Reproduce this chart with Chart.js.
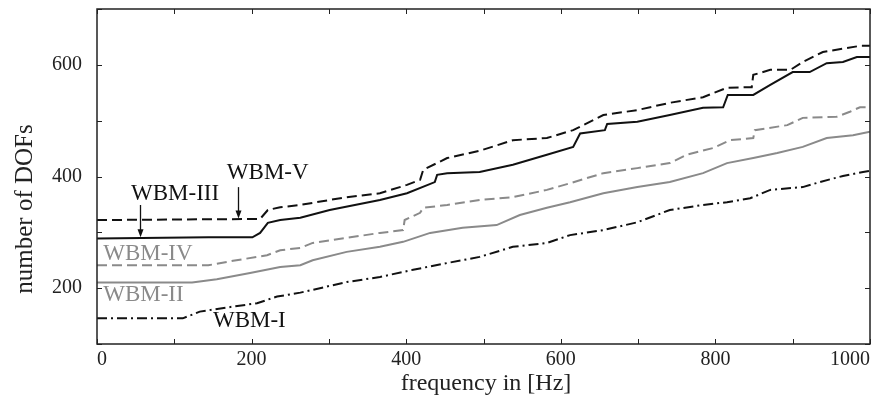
<!DOCTYPE html>
<html>
<head>
<meta charset="utf-8">
<script src="https://cdn.jsdelivr.net/npm/chart.js@4.4.0/dist/chart.umd.min.js"></script>
<style>
    html, body { margin: 0; padding: 0; background: #fff; }
    #wrap { width: 874px; height: 405px; }
</style>
</head>
<body>
<div id="wrap"><canvas id="dofChart" width="874" height="405"></canvas></div>
<script>
// frequency [Hz] / number of DOFs
const freqV = [0, 211, 221, 237, 263, 301, 323, 366, 401, 418, 422, 453, 495, 538, 582, 616, 655, 699, 741, 784, 815, 847, 849, 871, 897, 913, 939, 970, 987, 1000];
const dofsV = [322, 324, 340, 345, 349, 358, 363, 370, 385, 394, 412, 433, 446, 465, 469, 483, 510, 519, 532, 542, 559, 560, 582, 591, 591, 605, 623, 630, 634, 634];

const freqIII = [0, 144, 201, 211, 221, 237, 263, 301, 366, 401, 437, 440, 453, 495, 538, 582, 616, 625, 657, 660, 699, 741, 784, 810, 816, 849, 871, 900, 922, 944, 965, 983, 1000];
const dofsIII = [289, 291, 291, 299, 317, 322, 326, 340, 358, 370, 390, 403, 406, 408, 421, 439, 453, 477, 483, 494, 498, 510, 523, 524, 546, 546, 564, 587, 587, 603, 605, 614, 614];

const freqIV = [0, 144, 176, 220, 237, 263, 279, 323, 366, 396, 398, 418, 422, 453, 495, 538, 582, 612, 655, 699, 741, 763, 797, 819, 849, 851, 893, 913, 957, 974, 987, 1000];
const dofsIV = [241, 241, 249, 259, 268, 272, 281, 290, 299, 304, 322, 335, 344, 349, 358, 363, 376, 388, 406, 415, 424, 439, 451, 465, 469, 483, 492, 505, 507, 516, 524, 524];

const freqII = [0, 123, 155, 198, 237, 263, 279, 323, 366, 396, 431, 473, 517, 547, 582, 612, 655, 699, 741, 784, 815, 849, 880, 913, 944, 978, 1000];
const dofsII = [210, 210, 216, 227, 238, 241, 250, 265, 274, 283, 299, 308, 313, 331, 344, 354, 370, 381, 390, 406, 424, 433, 442, 453, 469, 474, 480];

const freqI = [0, 111, 133, 176, 207, 233, 263, 279, 323, 366, 409, 453, 495, 538, 582, 612, 655, 699, 741, 784, 815, 845, 871, 913, 935, 965, 991, 1000];
const dofsI = [146, 146, 158, 167, 173, 185, 192, 197, 211, 220, 233, 245, 256, 274, 281, 295, 304, 318, 340, 349, 354, 361, 376, 381, 390, 401, 408, 410];

const xTicks = [0, 200, 400, 600, 800, 1000];
const yTicks = [200, 400, 600];

const SERIF = '"Liberation Serif", "DejaVu Serif", serif';
const BLACK = '#111';
const GRAY = '#8a8a8a';

function series(label, xs, ys, color, dash) {
    return {
        label,
        data: xs.map((f, i) => ({ x: f, y: ys[i] })),
        borderColor: color,
        borderWidth: 2,
        borderDash: dash,
        borderCapStyle: 'butt',
        pointRadius: 0,
        fill: false,
        tension: 0
    };
}

// text labels + arrows, anchored in data coordinates
const notes = [
    { text: 'WBM-III', x: 44, y: 369, color: BLACK, arrow: { x: 56, from: 349, to: 291 } },
    { text: 'WBM-V', x: 168, y: 406, color: BLACK, arrow: { x: 182, from: 381, to: 325 } },
    { text: 'WBM-IV', x: 8, y: 262, color: GRAY },
    { text: 'WBM-II', x: 8, y: 188, color: GRAY },
    { text: 'WBM-I', x: 150, y: 141, color: BLACK }
];

const framePlugin = {
    id: 'frame',
    afterDraw(chart) {
        const { ctx, chartArea: a, scales: { x, y } } = chart;
        ctx.save();

        // box + inward ticks on all four sides
        ctx.strokeStyle = '#222';
        ctx.lineWidth = 1.5;
        ctx.strokeRect(a.left, a.top, a.right - a.left, a.bottom - a.top);
        ctx.lineWidth = 1;
        ctx.beginPath();
        x.ticks.forEach(t => {
            const px = Math.round(x.getPixelForValue(t.value)) + 0.5;
            ctx.moveTo(px, a.bottom); ctx.lineTo(px, a.bottom - 5);
            ctx.moveTo(px, a.top); ctx.lineTo(px, a.top + 5);
        });
        y.ticks.forEach(t => {
            const py = Math.round(y.getPixelForValue(t.value)) + 0.5;
            ctx.moveTo(a.left, py); ctx.lineTo(a.left + 5, py);
            ctx.moveTo(a.right, py); ctx.lineTo(a.right - 5, py);
        });
        ctx.stroke();

        // curve labels
        ctx.font = '23px ' + SERIF;
        ctx.textBaseline = 'middle';
        ctx.textAlign = 'left';
        notes.forEach(n => {
            ctx.fillStyle = n.color;
            ctx.fillText(n.text, x.getPixelForValue(n.x), y.getPixelForValue(n.y));
            if (n.arrow) {
                const ax = Math.round(x.getPixelForValue(n.arrow.x)) + 0.5;
                const y0 = y.getPixelForValue(n.arrow.from);
                const y1 = y.getPixelForValue(n.arrow.to);
                ctx.strokeStyle = BLACK;
                ctx.lineWidth = 1.3;
                ctx.beginPath();
                ctx.moveTo(ax, y0); ctx.lineTo(ax, y1 - 6);
                ctx.stroke();
                ctx.beginPath();
                ctx.moveTo(ax, y1); ctx.lineTo(ax - 3, y1 - 8); ctx.lineTo(ax + 3, y1 - 8);
                ctx.closePath();
                ctx.fillStyle = BLACK;
                ctx.fill();
            }
        });

        // axis titles
        ctx.fillStyle = '#222';
        ctx.font = '24px ' + SERIF;
        ctx.textAlign = 'center';
        ctx.fillText('frequency in [Hz]', 486, 384);
        ctx.translate(25, 209);
        ctx.rotate(-Math.PI / 2);
        ctx.font = '25px ' + SERIF;
        ctx.fillText('number of DOFs', 0, 0);

        ctx.restore();
    }
};

const ctx = document.getElementById('dofChart').getContext('2d');
new Chart(ctx, {
    type: 'line',
    data: {
        datasets: [
            series('WBM-V', freqV, dofsV, BLACK, [10, 5]),
            series('WBM-III', freqIII, dofsIII, BLACK, []),
            series('WBM-IV', freqIV, dofsIV, GRAY, [10, 5]),
            series('WBM-II', freqII, dofsII, GRAY, []),
            series('WBM-I', freqI, dofsI, BLACK, [10, 4, 2, 4])
        ]
    },
    options: {
        responsive: false,
        animation: false,
        layout: { padding: { left: 0, right: 4, top: 9, bottom: 0 } },
        plugins: { legend: { display: false }, tooltip: { enabled: false } },
        scales: {
            x: {
                type: 'linear', min: 0, max: 1000,
                ticks: {
                    stepSize: 100, align: 'inner', padding: 4, color: '#222',
                    font: { family: SERIF, size: 20 },
                    callback: v => xTicks.includes(v) ? v : ''
                },
                grid: { display: false, drawTicks: false },
                border: { display: false },
                afterFit: s => { s.height = 61; s.paddingLeft = 0; s.paddingRight = 0; }
            },
            y: {
                type: 'linear', min: 100, max: 700,
                ticks: {
                    stepSize: 100, padding: 15, color: '#222',
                    font: { family: SERIF, size: 20 },
                    callback: v => yTicks.includes(v) ? v : ''
                },
                grid: { display: false, drawTicks: false },
                border: { display: false },
                afterFit: s => { s.width = 97; s.paddingTop = 0; s.paddingBottom = 0; }
            }
        }
    },
    plugins: [framePlugin]
});
</script>
</body>
</html>
